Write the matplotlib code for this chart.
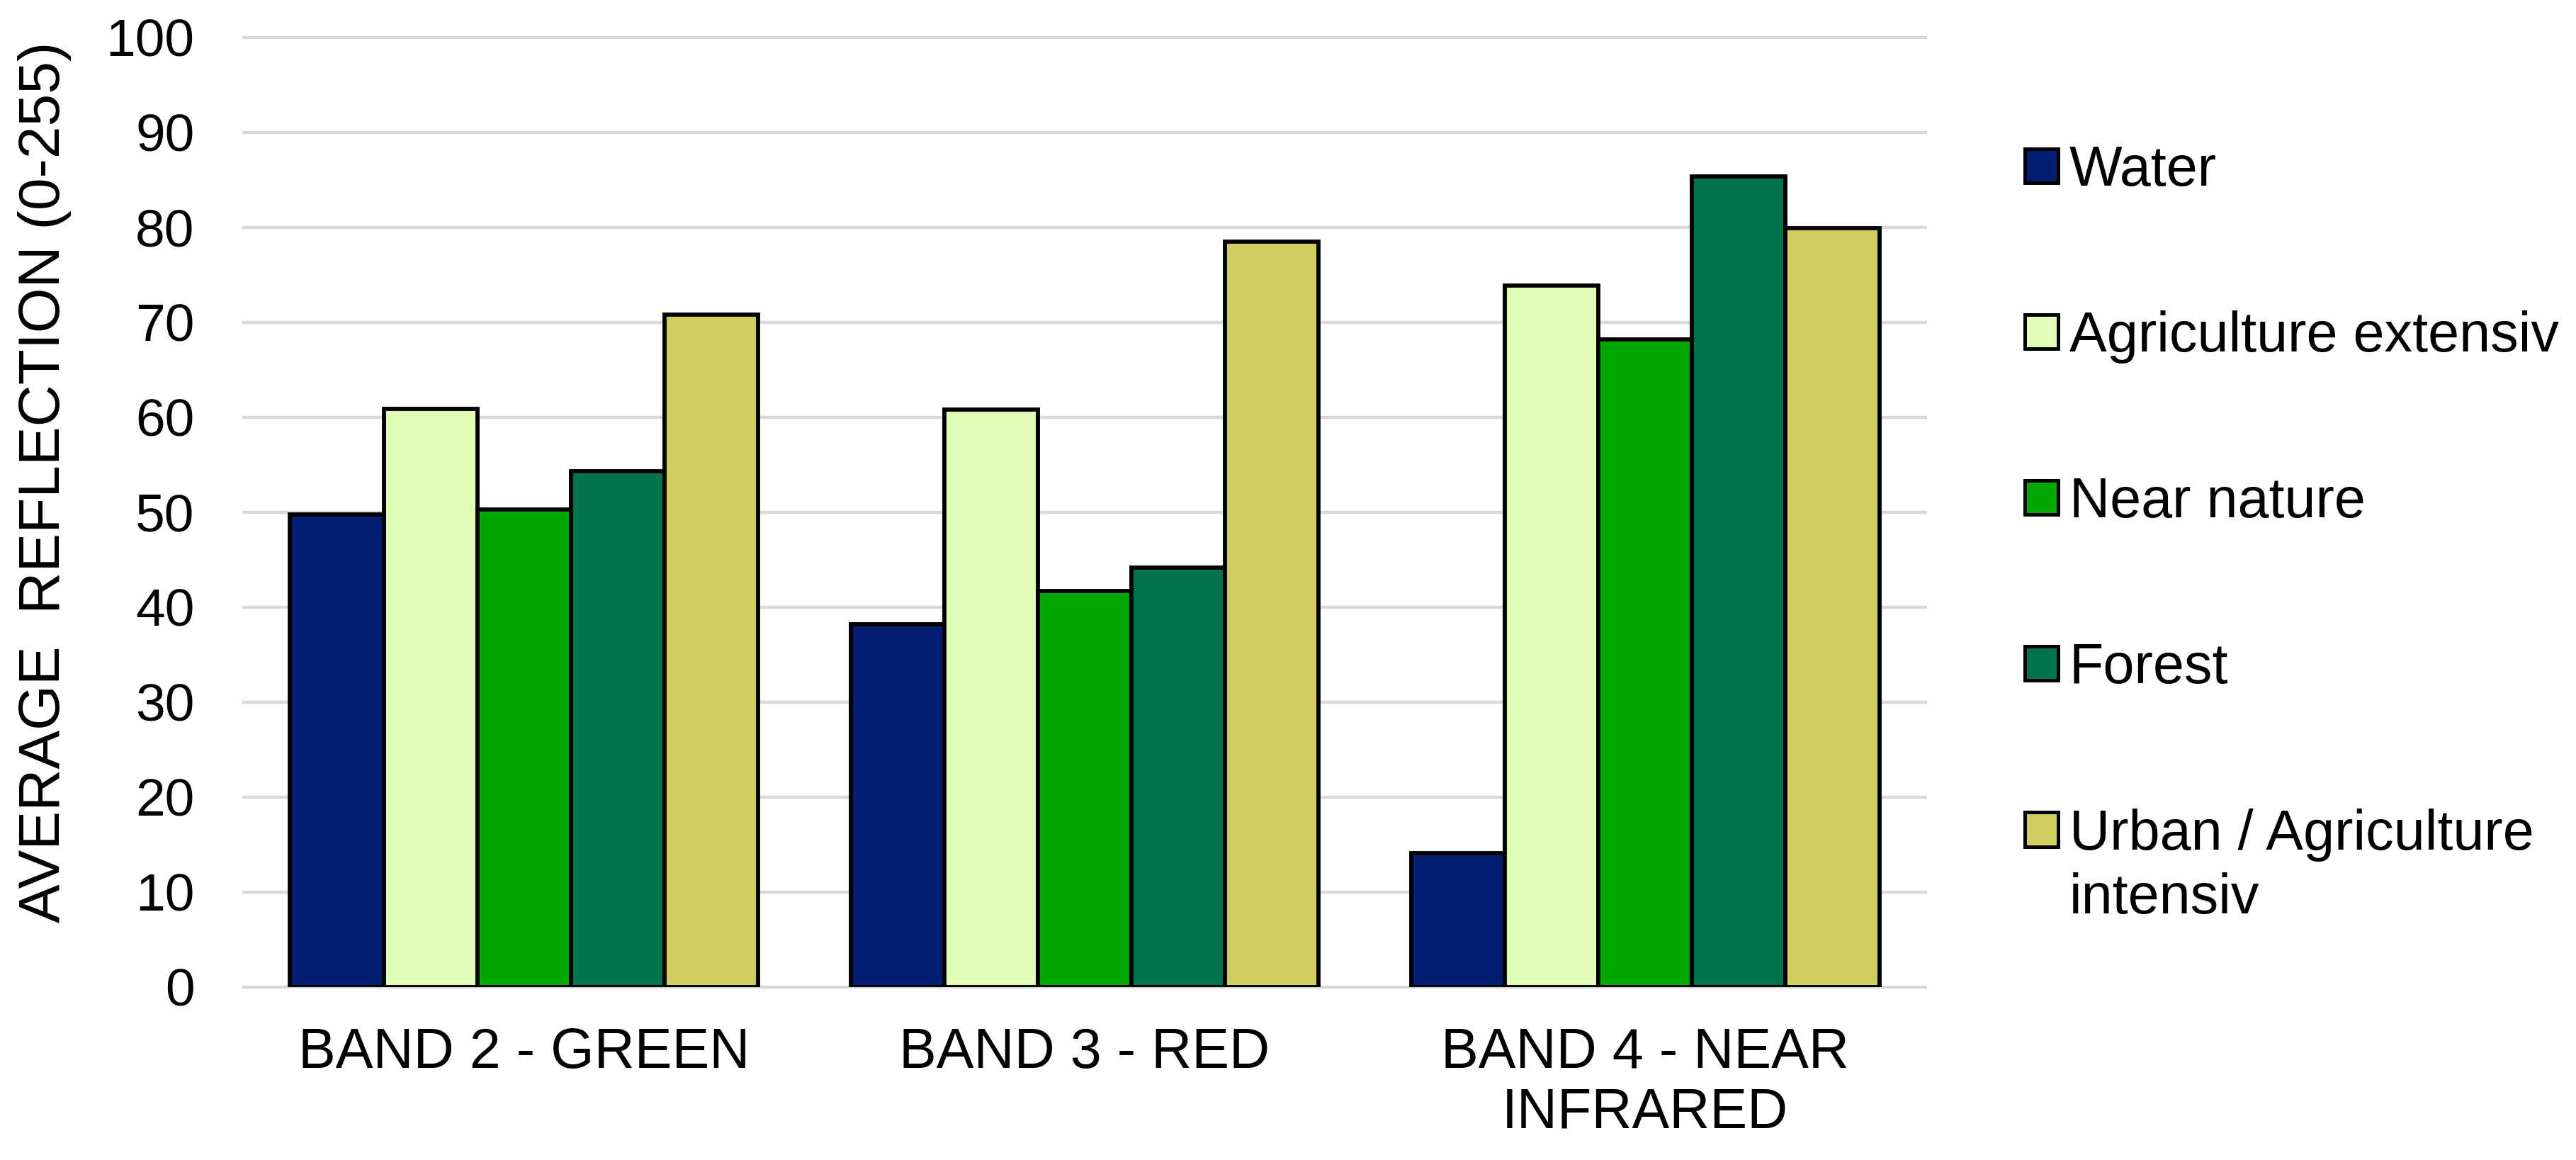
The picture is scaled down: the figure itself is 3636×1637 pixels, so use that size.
import numpy as np
import matplotlib
matplotlib.use("Agg")
import matplotlib.pyplot as plt

# ---- data ----
bands = ["BAND 2 - GREEN", "BAND 3 - RED", "BAND 4 - NEAR\nINFRARED"]
classes = ["Water", "Agriculture extensiv", "Near nature", "Forest",
           "Urban / Agriculture intensiv"]
water = [49.8, 38.2, 14.1]
agri_ext = [60.9, 60.8, 73.9]
near_nature = [50.3, 41.7, 68.2]
forest = [54.3, 44.2, 85.4]
urban_agri_int = [70.8, 78.5, 79.9]
y_ticks = [0, 10, 20, 30, 40, 50, 60, 70, 80, 90, 100]
y_label = "AVERAGE  REFLECTION (0-255)"

series = [water, agri_ext, near_nature, forest, urban_agri_int]
colors = ["#001F73", "#E0FCB6", "#00A900", "#00744A", "#D0CE5F"]

plt.rcParams["font.family"] = ["Liberation Sans", "DejaVu Sans"]

W, H = 3637, 1637
fig = plt.figure(figsize=(W / 100, H / 100), dpi=100)
ax = fig.add_axes([344 / W, 1 - 1393 / H, (2718 - 344) / W, (1393 - 53) / H])

x = np.arange(len(bands))
bw = 0.1669
handles = []
for i, (vals, col) in enumerate(zip(series, colors)):
    b = ax.bar(x + (i - 2) * bw, vals, width=bw, color=col,
               edgecolor="black", linewidth=4.2, zorder=3)
    handles.append(b)

ax.set_xlim(-0.5, len(bands) - 0.5)
ax.set_ylim(0, 100)
ax.set_yticks(y_ticks)
ax.set_xticks(x)
ax.set_xticklabels(bands, fontsize=57, linespacing=1.18)
ax.tick_params(axis="y", length=0, pad=50, labelsize=54)
ax.tick_params(axis="x", length=0, pad=40)
for s in ax.spines.values():
    s.set_visible(False)
ax.set_axisbelow(True)
ax.yaxis.grid(True, color="#D9D9D9", linewidth=3.2)
for gl in ax.get_ygridlines():
    gl.set_clip_on(False)

ax.set_ylabel(y_label, fontsize=59, va="center")
ax.yaxis.set_label_coords((63 - 344) / (2718 - 344), (1393 - 680) / (1393 - 53))

leg_labels = ["Water", "Agriculture extensiv", "Near nature", "Forest",
              "Urban / Agriculture"]
leg = fig.legend(handles, leg_labels, loc="upper left",
                 bbox_to_anchor=(2858 / W, 1 - 204 / H), frameon=False,
                 fontsize=57, handlelength=0.59, handleheight=0.56,
                 handletextpad=0.2, labelspacing=2.01, borderpad=0,
                 borderaxespad=0)
for p in leg.get_patches():
    p.set_linewidth(3.6)

fig.canvas.draw()
r = fig.canvas.get_renderer()
bb = leg.get_texts()[-1].get_window_extent(r)
fig.text(bb.x0 / W, (bb.y1 - 90) / H, "intensiv", fontsize=57,
         ha="left", va="top")

fig.savefig("out.png", dpi=100)
